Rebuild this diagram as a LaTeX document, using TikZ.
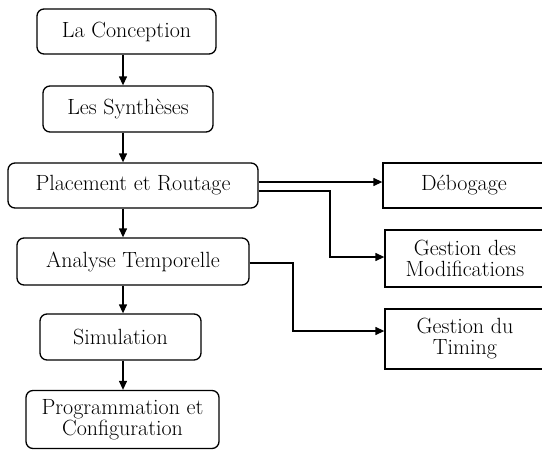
\documentclass[tikz,border=0pt]{standalone}
\usetikzlibrary{arrows.meta}
\begin{document}
\begin{tikzpicture}[x=1pt,y=-1pt,
  every node/.style={font=\fontsize{22}{21}\selectfont, align=center, inner sep=0pt},
  lbox/.style={draw, line width=1.3pt, rounded corners=7pt},
  rbox/.style={draw, line width=1.3pt},
  arr/.style={line width=1.3pt, -{Triangle[length=9pt,width=8pt]}}]
\useasboundingbox (0,0) rectangle (542,450);
\clip (0,0) rectangle (542,450);
\node[lbox, minimum width=179pt, minimum height=45pt] (conc) at (126.5,31.5) {La Conception};
\node[lbox, minimum width=170pt, minimum height=46pt] (synth) at (128,109) {Les Synthèses};
\node[lbox, minimum width=250pt, minimum height=45pt] (place) at (133,185.5) {Placement et Routage};
\node[lbox, minimum width=232pt, minimum height=47pt] (anal) at (133,261.5) {Analyse Temporelle};
\node[lbox, minimum width=161pt, minimum height=46pt] (sim) at (120.5,337) {Simulation};
\node[lbox, minimum width=193pt, minimum height=58pt] (prog) at (122.5,419.5) {Programmation et\\Configuration};
\node[rbox, minimum width=162pt, minimum height=45pt] (deb) at (464,185.5) {Débogage};
\node[rbox, minimum width=160pt, minimum height=57pt] (mod) at (465,258.5) {Gestion des\\Modifications};
\node[rbox, minimum width=160pt, minimum height=60pt] (tim) at (465,339) {Gestion du\\Timing};
\coordinate (ax) at (123,0);
\coordinate (y1) at (0,182);
\coordinate (y2) at (0,191);
\coordinate (y3) at (0,257);
\coordinate (y4) at (0,263);
\coordinate (y5) at (0,331);
\coordinate (x1) at (330,0);
\coordinate (x2) at (293,0);
\draw[arr] (conc.south -| ax) -- (synth.north -| ax);
\draw[arr] (synth.south -| ax) -- (place.north -| ax);
\draw[arr] (place.south -| ax) -- (anal.north -| ax);
\draw[arr] (anal.south -| ax) -- (sim.north -| ax);
\draw[arr] (sim.south -| ax) -- (prog.north -| ax);
\draw[arr] (place.east |- y1) -- (deb.west |- y1);
\draw[arr] (place.east |- y2) -- (x1 |- y2) -- (x1 |- y3) -- (mod.west |- y3);
\draw[arr] (anal.east |- y4) -- (x2 |- y4) -- (x2 |- y5) -- (tim.west |- y5);
\end{tikzpicture}
\end{document}
